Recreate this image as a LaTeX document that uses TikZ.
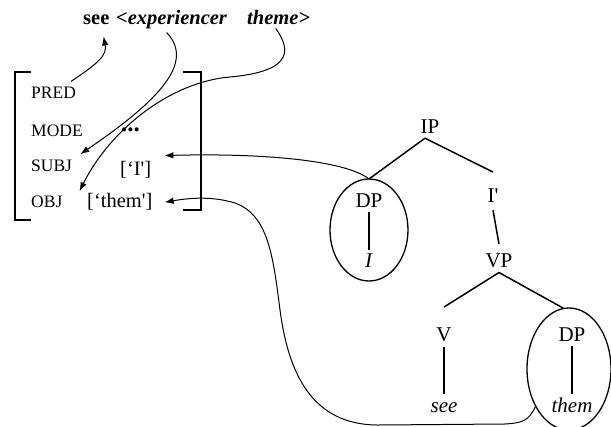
\documentclass[tikz,border=0pt]{standalone}
\usepackage{fontspec}
\setmainfont{Liberation Serif}
\usetikzlibrary{arrows.meta,shapes.geometric}
\begin{document}
\begin{tikzpicture}[x=1pt,y=-1pt,
  top/.style={anchor=base west,inner sep=0pt,font=\fontsize{20.5}{20.5}\selectfont\bfseries},
  feat/.style={anchor=base west,inner sep=0pt,font=\fontsize{17.5}{17.5}\selectfont},
  val/.style={anchor=base west,inner sep=0pt,font=\fontsize{20.5}{20.5}\selectfont},
  lbl/.style={anchor=base,inner sep=4pt,font=\fontsize{21}{21}\selectfont},
  br/.style={line width=1.6pt},
  tedge/.style={line width=1.5pt},
  link/.style={line width=1pt},
  arr/.style={link,-{Latex[length=9pt,width=6.5pt]}},
  circ/.style={draw,ellipse,line width=1.3pt,inner sep=0pt,outer sep=0pt}]
\useasboundingbox (0,0) rectangle (611,427);
% top line
\node[top] (see) at (83,25) {see};
\node[top] (exp) at (116,25) {\textit{<experiencer}};
\node[top] (theme) at (247,25) {\textit{theme>}};
% brackets
\draw[br] (31,72) -- (15,72) -- (15,220) -- (31,220);
\draw[br] (183,72) -- (201,72) -- (201,210) -- (183,210);
% features
\node[feat] (pred) at (31,99) {PRED};
\node[feat] (mode) at (31,137) {MODE};
\node[feat] (subj) at (31,172) {SUBJ};
\node[feat] (obj) at (31,208) {OBJ};
\node[val,font=\fontsize{25}{25}\selectfont] (dots) at (121,132) {\textbf{...}};
\node[val] (subjv) at (120,176) {[‘I\textquotesingle]};
\node[val] (objv) at (87,208) {[‘them\textquotesingle]};
% tree
\node[lbl] (ip) at (430,134) {IP};
\node[lbl] (dp1) at (369,208) {DP};
\node[lbl] (ipro) at (369,268) {\textit{I}};
\node[lbl] (ibar) at (493,203) {I\textquotesingle};
\node[lbl] (vp) at (499,268) {VP};
\node[lbl] (v) at (444,342) {V};
\node[lbl] (dp2) at (572,342) {DP};
\node[lbl] (seet) at (444,413) {\textit{see}};
\node[lbl] (them) at (572,413) {\textit{them}};
\node[circ,minimum width=78pt,minimum height=102pt] (e1) at (369,230) {};
\node[circ,minimum width=84pt,minimum height=122pt] (e2) at (569,369) {};
\draw[tedge] ([xshift=-5pt]ip.south) -- (e1.north);
\draw[tedge] ([xshift=-5pt]ip.south) -- ([yshift=13pt]ibar.north);
\draw[tedge] (dp1.south) -- (ipro.north);
\draw[tedge] ([yshift=-3pt]ibar.south) -- ([yshift=6pt]vp.north);
\draw[tedge] (vp.south) -- ([yshift=17pt]v.north);
\draw[tedge] (vp.south) -- ([xshift=-6pt]e2.north);
\draw[tedge] (v.south) -- ([yshift=5pt]seet.north);
\draw[tedge] (dp2.south) -- (them.north);
% connectors
\draw[arr] ([xshift=-5pt,yshift=6pt]pred.north east) .. controls (100,62) and (107,55) .. ([xshift=-6pt,yshift=-11pt]see.south east);
\draw[arr] ([xshift=-5pt,yshift=-3pt]exp.south) .. controls (195,62) and (160,100) .. ([xshift=8pt,yshift=6pt]subj.north east);
\draw[arr] ([xshift=-3pt,yshift=-3pt]theme.south) .. controls (295,55) and (285,72) .. (230,77) .. controls (170,82) and (110,130) .. ([xshift=17pt,yshift=5pt]obj.north east);
\draw[arr] (e1.north) .. controls (345,160) and (260,153) .. ([xshift=13pt,yshift=6pt]subjv.north east);
\draw[arr] (e2.228) .. controls (529,421) and (522,423) .. (505,424) -- (380,425) .. controls (310,426) and (288,370) .. (280,310) .. controls (273,255) and (268,215) .. (235,203) .. controls (215,197) and (195,197) .. ([xshift=12pt]objv.east);
\end{tikzpicture}
\end{document}
